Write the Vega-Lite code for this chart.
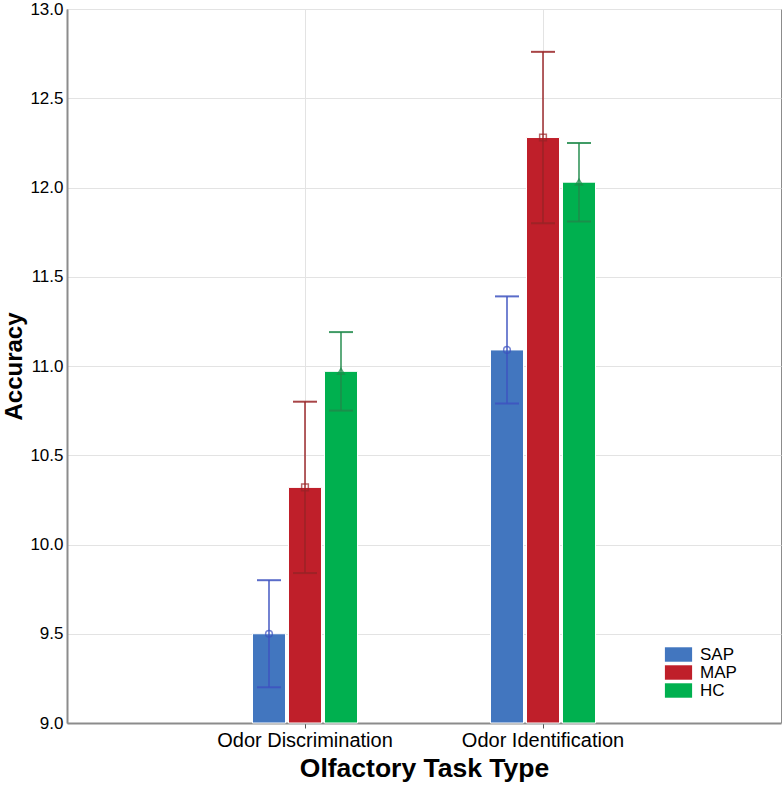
{
  "$schema": "https://vega.github.io/schema/vega-lite/v6.json",
  "width": 714,
  "height": 714,
  "autosize": {"type": "none"},
  "padding": {"left": 67, "top": 9, "right": 3, "bottom": 63},
  "background": "white",
  "config": {
    "font": "Liberation Sans",
    "view": {"stroke": "#8c8c8c", "strokeWidth": 1}
  },
  "data": {
    "values": [
      {"task": "Odor Discrimination", "group": "SAP", "mean": 9.50, "lo": 9.20, "hi": 9.80},
      {"task": "Odor Discrimination", "group": "MAP", "mean": 10.32, "lo": 9.84, "hi": 10.80},
      {"task": "Odor Discrimination", "group": "HC", "mean": 10.97, "lo": 10.75, "hi": 11.19},
      {"task": "Odor Identification", "group": "SAP", "mean": 11.09, "lo": 10.79, "hi": 11.39},
      {"task": "Odor Identification", "group": "MAP", "mean": 12.28, "lo": 11.80, "hi": 12.76},
      {"task": "Odor Identification", "group": "HC", "mean": 12.03, "lo": 11.81, "hi": 12.25}
    ]
  },
  "encoding": {
    "x": {
      "field": "task", "type": "nominal",
      "scale": {"paddingInner": 0, "paddingOuter": 0.5},
      "axis": {
        "title": "Olfactory Task Type", "titleFontSize": 26.5, "titleFontWeight": "bold", "titleColor": "black",
        "titlePadding": 5,
        "labelAngle": 0, "labelFontSize": 20, "labelColor": "black", "labelPadding": 2,
        "grid": true, "bandPosition": 0.5, "gridColor": "#e3e3e3",
        "domainColor": "#8c8c8c", "domainWidth": 2, "tickColor": "#555", "tickSize": 5
      }
    },
    "xOffset": {
      "field": "group", "type": "nominal", "sort": ["SAP", "MAP", "HC"],
      "scale": {"domain": ["SAP", "MAP", "HC"], "range": [66.5, 171.5], "paddingInner": 0.0833, "paddingOuter": 0}
    }
  },
  "layer": [
    {
      "mark": {"type": "bar", "stroke": "white", "strokeWidth": 1},
      "encoding": {
        "y": {
          "field": "mean", "type": "quantitative",
          "scale": {"domain": [9, 13], "zero": false, "nice": false},
          "axis": {
            "title": "Accuracy", "titleFontSize": 24, "titleFontWeight": "bold", "titleColor": "black",
            "titlePadding": 3,
            "values": [9, 9.5, 10, 10.5, 11, 11.5, 12, 12.5, 13], "format": ".1f",
            "labelFontSize": 17, "labelColor": "black", "labelPadding": 4,
            "ticks": false, "gridColor": "#e3e3e3", "domainColor": "#8c8c8c", "domainWidth": 2
          }
        },
        "y2": {"datum": 9},
        "fill": {
          "field": "group", "type": "nominal", "sort": ["SAP", "MAP", "HC"],
          "scale": {"domain": ["SAP", "MAP", "HC"], "range": ["#4276bf", "#bf1f2a", "#00b04f"]},
          "legend": {
            "title": null, "orient": "none", "legendX": 603, "legendY": 637,
            "symbolType": "M-1.6,-0.85H1.6V0.85H-1.6Z", "symbolSize": 289, "symbolStrokeWidth": 0,
            "labelFontSize": 17, "labelColor": "black", "rowPadding": 0, "labelOffset": 13
          }
        }
      }
    },
    {
      "mark": {"type": "rule", "strokeWidth": 1.7, "opacity": 0.85},
      "encoding": {
        "y": {"field": "lo", "type": "quantitative"},
        "y2": {"field": "hi"},
        "color": {
          "field": "group", "type": "nominal",
          "scale": {"domain": ["SAP", "MAP", "HC"], "range": ["#3d52c0", "#992326", "#1e8a4a"]},
          "legend": null
        }
      }
    },
    {
      "mark": {"type": "tick", "size": 24, "thickness": 2, "opacity": 0.85},
      "encoding": {
        "y": {"field": "lo", "type": "quantitative"},
        "color": {"field": "group", "type": "nominal", "legend": null}
      }
    },
    {
      "mark": {"type": "tick", "size": 24, "thickness": 2, "opacity": 0.85},
      "encoding": {
        "y": {"field": "hi", "type": "quantitative"},
        "color": {"field": "group", "type": "nominal", "legend": null}
      }
    },
    {
      "transform": [{"filter": "datum.group === 'SAP'"}],
      "mark": {"type": "point", "shape": "circle", "filled": false, "size": 45, "strokeWidth": 1.5},
      "encoding": {
        "y": {"field": "mean", "type": "quantitative"},
        "color": {"field": "group", "type": "nominal", "legend": null}
      }
    },
    {
      "transform": [{"filter": "datum.group === 'MAP'"}],
      "mark": {"type": "point", "shape": "square", "filled": false, "size": 45, "strokeWidth": 1.5},
      "encoding": {
        "y": {"field": "mean", "type": "quantitative"},
        "color": {"field": "group", "type": "nominal", "legend": null}
      }
    },
    {
      "transform": [{"filter": "datum.group === 'HC'"}],
      "mark": {"type": "point", "shape": "triangle-up", "filled": false, "size": 45, "strokeWidth": 1.5},
      "encoding": {
        "y": {"field": "mean", "type": "quantitative"},
        "color": {"field": "group", "type": "nominal", "legend": null}
      }
    }
  ]
}
